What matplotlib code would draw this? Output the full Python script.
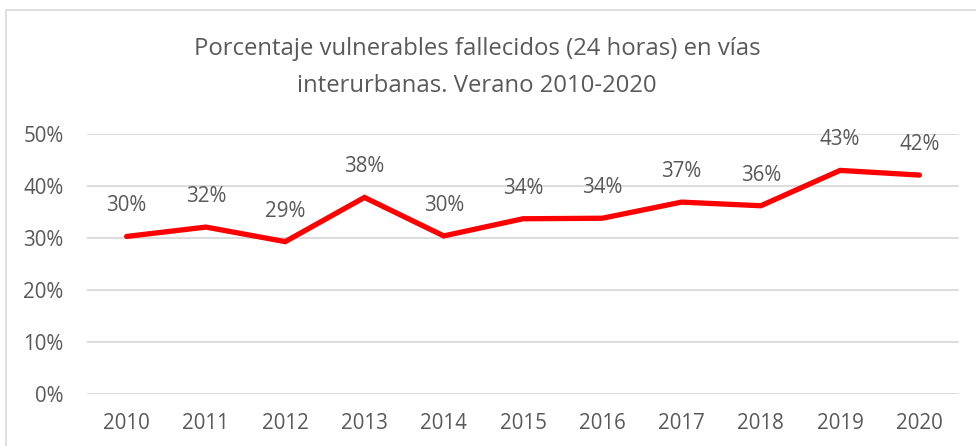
import numpy as np
from matplotlib import pyplot as plt
from matplotlib.patches import Rectangle

plt.rcParams["font.family"] = ["Open Sans", "DejaVu Sans"]

# values
years = ["2010", "2011", "2012", "2013", "2014", "2015", "2016", "2017", "2018", "2019", "2020"]
pct_vulnerables = [30.3, 32.1, 29.3, 37.8, 30.4, 33.7, 33.8, 36.9, 36.2, 43.0, 42.1]
y_ticks = [0, 10, 20, 30, 40, 50]

TEXT_COLOR = "#595959"
GRID_COLOR = "#d9d9d9"
LINE_COLOR = "#ff0000"


def main():
    W, H = 976, 446
    fig = plt.figure(figsize=(W / 100, H / 100), dpi=100)

    # axes placed in pixel coords
    left, right = 87, 959
    top, bottom = 134, 394
    ax = fig.add_axes([left / W, (H - bottom) / H, (right - left) / W, (bottom - top) / H])

    x = np.arange(len(years))
    ax.plot(x, pct_vulnerables, color=LINE_COLOR, linewidth=3.8, solid_capstyle="round",
            solid_joinstyle="miter", zorder=3)

    # data labels above each point
    for xi, v in zip(x, pct_vulnerables):
        ax.annotate("{:.0f}%".format(v), (xi, v), xytext=(0, 22), textcoords="offset points",
                    ha="center", va="center", fontsize=14.8, color=TEXT_COLOR)

    ax.set_xlim(-0.5, len(years) - 0.5)
    ax.set_ylim(0, 50)
    ax.set_xticks(x)
    ax.set_xticklabels(years)
    ax.set_yticks(y_ticks)
    ax.set_yticklabels(["{}%".format(t) for t in y_ticks])
    ax.tick_params(axis="x", length=0, pad=14, labelsize=14.8, labelcolor=TEXT_COLOR)
    ax.tick_params(axis="y", length=0, pad=17, labelsize=14.8, labelcolor=TEXT_COLOR)
    ax.grid(True, axis="y", color=GRID_COLOR, linewidth=1.3)
    ax.set_axisbelow(True)
    for s in ax.spines.values():
        s.set_visible(False)

    fig.text(477 / W, 1 - 67.5 / H,
             "Porcentaje vulnerables fallecidos (24 horas) en vías\ninterurbanas. Verano 2010-2020",
             ha="center", va="center", fontsize=17.2, color=TEXT_COLOR, linespacing=1.75)

    # chart border (only left and top edges visible in the reference)
    fig.patches.append(Rectangle((5.5 / W, -0.1), 1.2, 1 - 9.5 / H + 0.1, transform=fig.transFigure,
                                 fill=False, edgecolor=GRID_COLOR, linewidth=1.2))

    fig.savefig("out.png", dpi=100)


if __name__ == "__main__":
    main()
